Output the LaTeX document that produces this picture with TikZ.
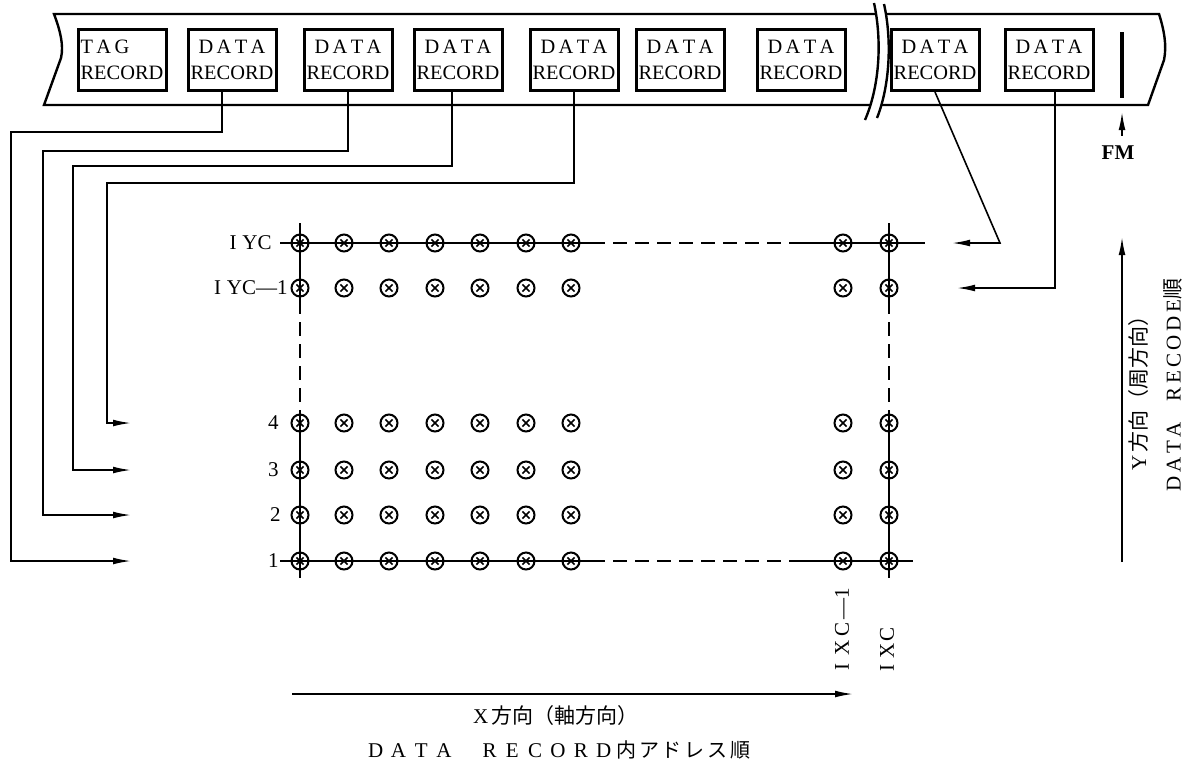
\documentclass[tikz,border=0pt]{standalone}
\usepackage{fontspec}
\setmainfont{Liberation Serif}
\newfontfamily\jp{Noto Sans CJK JP}
\usetikzlibrary{arrows.meta}

\newcommand\fw[1]{\makebox[11.4pt]{#1}}
\newcommand\sw[1]{\makebox[9.5pt]{#1}}

\tikzset{
  recbox/.style={draw, line width=1.5pt, minimum width=44pt, minimum height=30.5pt,
    inner sep=1pt, align=center, font=\fontsize{10.2}{13}\selectfont},
  xmark/.style={circle, draw, line width=1pt, minimum size=8.5pt, inner sep=0pt,
    path picture={\draw[line width=0.8pt]
      ([shift={(-1.8pt,-1.8pt)}]path picture bounding box.center) -- ([shift={(1.8pt,1.8pt)}]path picture bounding box.center)
      ([shift={(-1.8pt,1.8pt)}]path picture bounding box.center) -- ([shift={(1.8pt,-1.8pt)}]path picture bounding box.center);}},
  arr/.style={-{Latex[length=9pt,width=3.4pt]}, line width=0.8pt},
  lbl/.style={inner sep=0pt, font=\fontsize{10.5}{12}\selectfont},
  tapeline/.style={line width=1.2pt},
  gridline/.style={line width=0.8pt},
  dashseg/.style={line width=0.8pt, dash pattern=on 7pt off 4pt}
}

\begin{document}
\begin{tikzpicture}[x=0.5pt, y=-0.5pt]
  \useasboundingbox (0,0) rectangle (1192,767);

  % Tape
  \draw[tapeline] (876,14) -- (54,14) .. controls (60,30) and (64,45) .. (61,58) -- (44,105) -- (870,105);
  \draw[tapeline] (886,14) -- (1159,14) .. controls (1164,30) and (1167,45) .. (1164,60) -- (1148,105) -- (882,105);
  \draw[tapeline] (874,3) .. controls (882,40) and (880,85) .. (865,120);
  \draw[tapeline] (884,4) .. controls (892,40) and (890,85) .. (877,118);
  \draw[line width=1.8pt] (1122,32) -- (1122,98);

  % Nodes
  \node[recbox, align=left] (tag) at (122,60) {T\,A\,G\\RECORD};
  \node[recbox] (d1) at (232,60) {D\,A\,T\,A\\RECORD};
  \node[recbox] (d2) at (348,60) {D\,A\,T\,A\\RECORD};
  \node[recbox] (d3) at (458,60) {D\,A\,T\,A\\RECORD};
  \node[recbox] (d4) at (574,60) {D\,A\,T\,A\\RECORD};
  \node[recbox] (d5) at (680,60) {D\,A\,T\,A\\RECORD};
  \node[recbox] (d6) at (801,60) {D\,A\,T\,A\\RECORD};
  \node[recbox] (d7) at (935,60) {D\,A\,T\,A\\RECORD};
  \node[recbox] (d8) at (1049,60) {D\,A\,T\,A\\RECORD};

  \foreach \x [count=\i] in {300,344,389,435,480,526,571,843,889}
    \foreach \y [count=\j] in {561,515,470,423,288,243}
      \node[xmark] (g-\i-\j) at (\x,\y) {};

  % Grid lines
  \draw[gridline] ([xshift=-10pt]g-1-6.center) -- ([xshift=10pt]g-7-6.center);
  \draw[dashseg] ([xshift=10pt]g-7-6.center) -- ([xshift=-22pt]g-8-6.center);
  \draw[gridline] ([xshift=-22pt]g-8-6.center) -- ([xshift=18pt]g-9-6.center);
  \draw[gridline] ([xshift=-10pt]g-1-1.center) -- ([xshift=10pt]g-7-1.center);
  \draw[dashseg] ([xshift=10pt]g-7-1.center) -- ([xshift=-22pt]g-8-1.center);
  \draw[gridline] ([xshift=-22pt]g-8-1.center) -- ([xshift=12pt]g-9-1.center);
  \foreach \i in {1,9} {
    \draw[gridline] ([yshift=10pt]g-\i-6.center) -- ([yshift=-6pt]g-\i-5.center);
    \draw[dashseg] ([yshift=-6pt]g-\i-5.center) -- ([yshift=6.5pt]g-\i-4.center);
    \draw[gridline] ([yshift=6.5pt]g-\i-4.center) -- ([yshift=-8.5pt]g-\i-1.center);
  }

  % Arrows
  \coordinate (in1) at (131,561);
  \coordinate (in2) at (131,515);
  \coordinate (in3) at (131,470);
  \coordinate (in4) at (131,423);
  \coordinate (in7) at (952,243);
  \coordinate (in8) at (957,288);
  \draw[arr] ([xshift=-5pt]d1.south) |- (11,132) |- (in1);
  \draw[arr] (d2.south) |- (43,151) |- (in2);
  \draw[arr] ([xshift=-3pt]d3.south) |- (73,166) |- (in3);
  \draw[arr] (d4.south) |- (107,183) |- (in4);
  \draw[arr] (d7.south) -- (1000,243) -- (in7);
  \draw[arr] ([xshift=3pt]d8.south) |- (in8);

  \node[lbl, font=\fontsize{10.5}{12}\selectfont\bfseries] (fm) at (1118,153) {FM};
  \coordinate (fmtip) at (1122,112);
  \draw[arr] ([yshift=5pt]fm.north -| fmtip) -- (fmtip);

  \coordinate (x0) at (292,694);
  \coordinate (x1) at (853,694);
  \draw[arr] (x0) -- (x1);
  \coordinate (y0) at (1122,562);
  \coordinate (y1) at (1122,237);
  \draw[arr] (y0) -- (y1);

  % Annotations
  \node[lbl, anchor=east] (lyc) at (272,243) {I\;YC};
  \node[lbl, anchor=east] (lyc1) at (288,288) {I\;YC---1};
  \node[lbl, anchor=east] (l4) at (279,423) {4};
  \node[lbl, anchor=east] (l3) at (279,470) {3};
  \node[lbl, anchor=east] (l2) at (281,515) {2};
  \node[lbl, anchor=east] (l1) at (279,561) {1};
  \node[lbl, rotate=90, anchor=west] (lxc1) at (842,677) {\sw{I}\sw{X}\sw{C}---1};
  \node[lbl, rotate=90, anchor=west] (lxc) at (887,677) {\makebox[8.5pt]{I}\makebox[8.5pt]{X}\makebox[8.5pt]{C}};

  \node[lbl] (xtxt) at (556,716) {X\,{\jp\fontsize{10.5}{12}\selectfont 方向（軸方向）}};
  \node[lbl] (xord) at (558,750) {\fw{D}\fw{A}\fw{T}\fw{A}\fw{}\fw{R}\fw{E}\fw{C}\fw{O}\fw{R}\fw{D}{\jp\fontsize{10}{12}\selectfont\fw{内}\fw{ア}\fw{ド}\fw{レ}\fw{ス}\fw{順}}};
  \node[lbl, rotate=90] (ytxt) at (1138,388) {Y\,{\jp\fontsize{10.5}{12}\selectfont 方向（周方向）}};
  \node[lbl, rotate=90] (yord) at (1173,385) {D\,A\,T\,A\quad R\,E\,C\,O\,D\,E{\jp 順}};
\end{tikzpicture}
\end{document}
